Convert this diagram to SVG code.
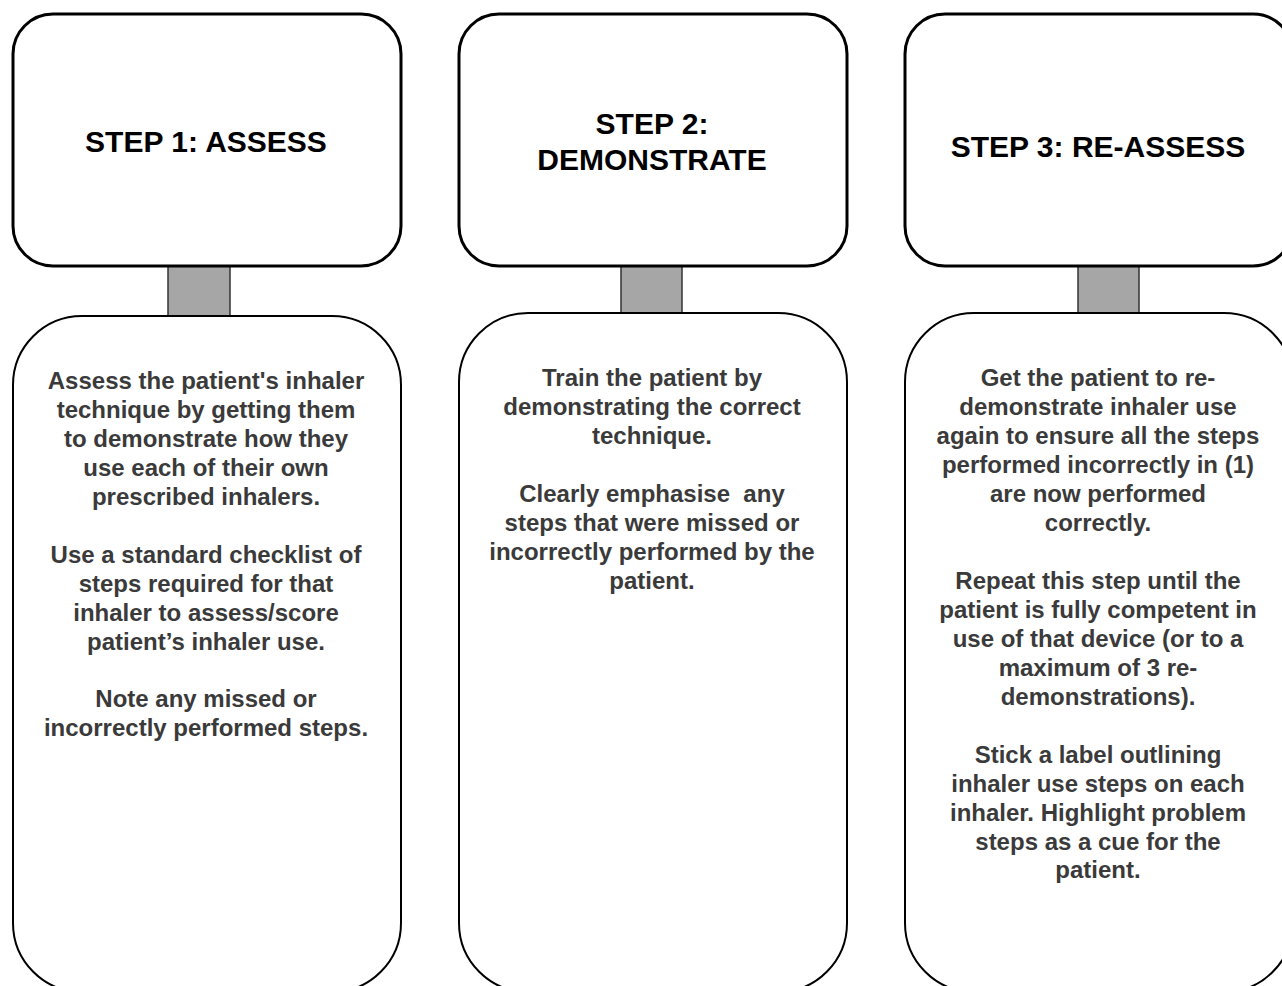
<svg xmlns="http://www.w3.org/2000/svg" width="1282" height="986" viewBox="0 0 1282 986">
<style>
.head{fill:#fff;stroke:#000;stroke-width:3}
.body{fill:#fff;stroke:#000;stroke-width:2}
.link{fill:#a6a6a6;stroke:#333;stroke-width:1.5}
.title{font-family:"Liberation Sans",Arial,sans-serif;font-weight:bold;font-size:30px;fill:#000;text-anchor:middle}
.txt{font-family:"Liberation Sans",Arial,sans-serif;font-weight:bold;font-size:24px;fill:#3a3a3a;text-anchor:middle;white-space:pre}
</style>
<rect width="1282" height="986" fill="#fff"/>
<g id="connectors">
<rect class="link" x="168" y="266" width="62" height="50"/>
<rect class="link" x="621" y="266" width="61" height="47"/>
<rect class="link" x="1078" y="266" width="61" height="47"/>
</g>
<g id="step1-head">
<rect class="head" x="13" y="14" width="388" height="252" rx="40"/>
<text class="title" x="206" y="152">STEP 1: ASSESS</text>
</g>
<g id="step2-head">
<rect class="head" x="459" y="14" width="388" height="252" rx="40"/>
<text class="title" x="652" y="134">STEP 2:</text>
<text class="title" x="652" y="170">DEMONSTRATE</text>
</g>
<g id="step3-head">
<rect class="head" x="905" y="14" width="388" height="252" rx="40"/>
<text class="title" x="1098" y="157">STEP 3: RE-ASSESS</text>
</g>
<g id="step1-body">
<rect class="body" x="13" y="316" width="388" height="676" rx="69"/>
<text class="txt" x="206" y="389">Assess the patient's inhaler</text>
<text class="txt" x="206" y="418">technique by getting them</text>
<text class="txt" x="206" y="447">to demonstrate how they</text>
<text class="txt" x="206" y="476">use each of their own</text>
<text class="txt" x="206" y="505">prescribed inhalers.</text>
<text class="txt" x="206" y="563">Use a standard checklist of</text>
<text class="txt" x="206" y="592">steps required for that</text>
<text class="txt" x="206" y="621">inhaler to assess/score</text>
<text class="txt" x="206" y="650">patient’s inhaler use.</text>
<text class="txt" x="206" y="707">Note any missed or</text>
<text class="txt" x="206" y="736">incorrectly performed steps.</text>
</g>
<g id="step2-body">
<rect class="body" x="459" y="313" width="388" height="679" rx="69"/>
<text class="txt" x="652" y="386">Train the patient by</text>
<text class="txt" x="652" y="415">demonstrating the correct</text>
<text class="txt" x="652" y="444">technique.</text>
<text class="txt" x="652" y="502">Clearly emphasise  any</text>
<text class="txt" x="652" y="531">steps that were missed or</text>
<text class="txt" x="652" y="560">incorrectly performed by the</text>
<text class="txt" x="652" y="589">patient.</text>
</g>
<g id="step3-body">
<rect class="body" x="905" y="313" width="388" height="679" rx="69"/>
<text class="txt" x="1098" y="386">Get the patient to re-</text>
<text class="txt" x="1098" y="415">demonstrate inhaler use</text>
<text class="txt" x="1098" y="444">again to ensure all the steps</text>
<text class="txt" x="1098" y="473">performed incorrectly in (1)</text>
<text class="txt" x="1098" y="502">are now performed</text>
<text class="txt" x="1098" y="531">correctly.</text>
<text class="txt" x="1098" y="589">Repeat this step until the</text>
<text class="txt" x="1098" y="618">patient is fully competent in</text>
<text class="txt" x="1098" y="647">use of that device (or to a</text>
<text class="txt" x="1098" y="676">maximum of 3 re-</text>
<text class="txt" x="1098" y="705">demonstrations).</text>
<text class="txt" x="1098" y="763">Stick a label outlining</text>
<text class="txt" x="1098" y="792">inhaler use steps on each</text>
<text class="txt" x="1098" y="821">inhaler. Highlight problem</text>
<text class="txt" x="1098" y="850">steps as a cue for the</text>
<text class="txt" x="1098" y="878">patient.</text>
</g>
</svg>
